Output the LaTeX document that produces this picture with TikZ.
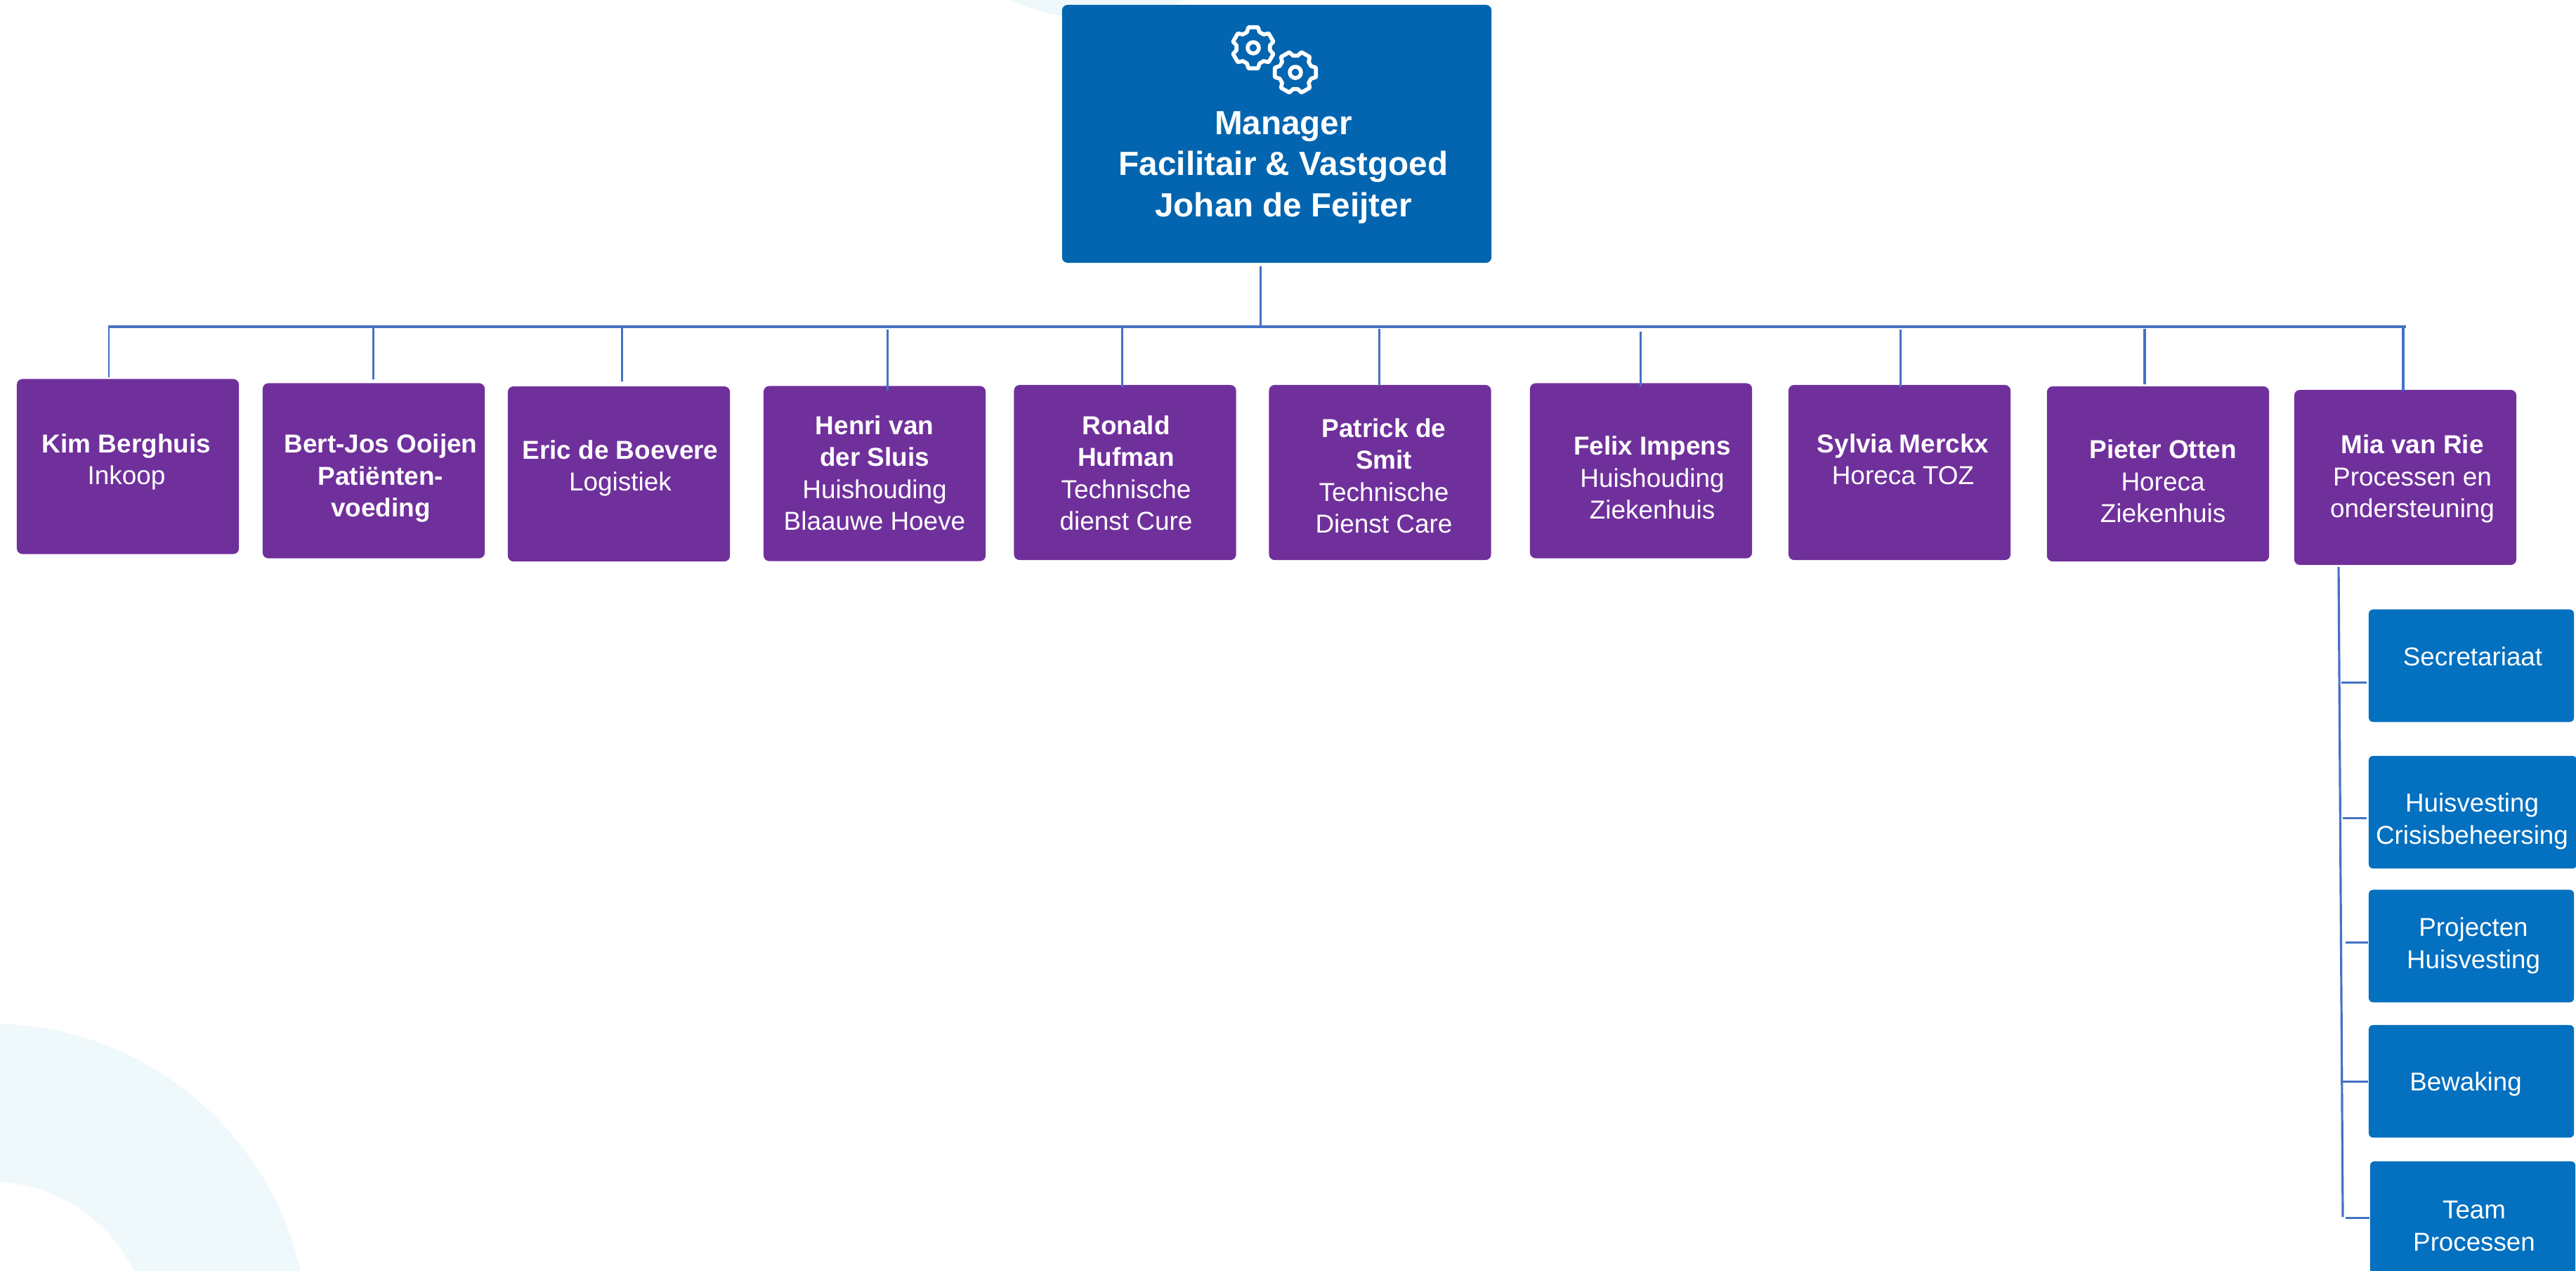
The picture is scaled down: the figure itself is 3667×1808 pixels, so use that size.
\documentclass[tikz,border=0pt]{standalone}
\usepackage{fontspec}
\setmainfont{Liberation Sans}
\definecolor{mgrblue}{HTML}{0365AF}
\definecolor{subblue}{HTML}{0370C0}
\definecolor{staffpurple}{HTML}{70309C}
\definecolor{barblue}{HTML}{4472C4}
\definecolor{palering}{HTML}{EFF8FA}
\tikzset{
  mgrbox/.style={fill=mgrblue, rounded corners=0.08cm, inner sep=0, minimum width=6.11cm, minimum height=3.67cm},
  staffbox/.style={fill=staffpurple, rounded corners=0.08cm, inner sep=0, minimum width=3.16cm, minimum height=2.49cm},
  subbox/.style={fill=subblue, rounded corners=0.06cm, inner sep=0, minimum width=2.92cm, minimum height=1.60cm},
  mgrtext/.style={text=white, align=center, anchor=base, inner sep=0, font=\fontsize{13.55}{16.6}\selectfont\bfseries},
  stafftext/.style={text=white, align=center, anchor=base, inner sep=0, font=\fontsize{10.5}{12.8}\selectfont},
  subtext/.style={text=white, align=center, anchor=base, inner sep=0, font=\fontsize{10.45}{13.0}\selectfont},
  busline/.style={draw=barblue, line width=0.9pt},
  stemline/.style={draw=barblue, line width=0.85pt},
  gearline/.style={draw=white, line width=1.6pt, line join=round}
}
\begin{document}
\begin{tikzpicture}[x=0.01cm, y=-0.01cm]
  \clip (0, 0) rectangle (3667, 1808);
  \useasboundingbox (0, 0) rectangle (3667, 1808);

  % Background shapes
  \fill[palering] (1563, -279) circle[radius=306];
  \fill[palering, even odd rule] (-13, 1909) circle[radius=452] (-13, 1909) circle[radius=227];

  % Manager
  \node[mgrbox] (manager) at (1817.5, 190.5) {};
  \node[mgrtext] (managertext) at (1827, 308) {Manager\\Facilitair \& Vastgoed\\Johan de Feijter};

  % Gears
  \foreach \cx/\cy/\rot/\gearname in {1784/68/90/geara, 1844/103/60/gearb} {
    \begin{scope}[shift={(\cx, \cy)}]
      \coordinate (\gearname) at (0, 0);
      \draw[gearline] ({\rot-22}:24) \foreach \k in {0, ..., 5} {
        -- ({\rot+60*\k-13}:30) -- ({\rot+60*\k+13}:30) -- ({\rot+60*\k+22}:24) -- ({\rot+60*\k+38}:24)
      } -- cycle;
      \draw[gearline] (0, 0) circle[radius=8];
    \end{scope}
  }

  % Staff row
  \node[staffbox] (kim) at (182, 664) {};
  \node[staffbox] (bert) at (532, 670) {};
  \node[staffbox] (eric) at (881, 674.5) {};
  \node[staffbox] (henri) at (1245, 674) {};
  \node[staffbox] (ronald) at (1601.5, 672.5) {};
  \node[staffbox] (patrick) at (1964.5, 672.5) {};
  \node[staffbox] (felix) at (2336, 670) {};
  \node[staffbox] (sylvia) at (2704, 672.5) {};
  \node[staffbox] (pieter) at (3072, 674.5) {};
  \node[staffbox] (mia) at (3424, 679.5) {};

  % Staff labels
  \node[stafftext] (kimtext) at (180, 689) {\textbf{Kim Berghuis}\\Inkoop};
  \node[stafftext] (berttext) at (542, 735) {\textbf{Bert-Jos Ooijen}\\\textbf{Patiënten-}\\\textbf{voeding}};
  \node[stafftext] (erictext) at (883, 698) {\textbf{Eric de Boevere}\\Logistiek};
  \node[stafftext] (henritext) at (1245, 754) {\textbf{Henri van}\\\textbf{der Sluis}\\Huishouding\\Blaauwe Hoeve};
  \node[stafftext] (ronaldtext) at (1603, 754) {\textbf{Ronald}\\\textbf{Hufman}\\Technische\\dienst Cure};
  \node[stafftext] (patricktext) at (1970, 758) {\textbf{Patrick de}\\\textbf{Smit}\\Technische\\Dienst Care};
  \node[stafftext] (felixtext) at (2352, 738) {\textbf{Felix Impens}\\Huishouding\\Ziekenhuis};
  \node[stafftext] (sylviatext) at (2709, 689) {\textbf{Sylvia Merckx}\\Horeca TOZ};
  \node[stafftext] (pietertext) at (3079, 743) {\textbf{Pieter Otten}\\Horeca\\Ziekenhuis};
  \node[stafftext] (miatext) at (3434, 736) {\textbf{Mia van Rie}\\Processen en\\ondersteuning};

  % Team boxes
  \node[subbox] (sec) at (3518, 947.5) {};
  \node[subbox, minimum width=2.96cm] (huis) at (3520, 1156) {};
  \node[subbox] (proj) at (3518, 1346.5) {};
  \node[subbox] (bew) at (3518, 1539) {};
  \node[subbox] (team) at (3520, 1733) {};
  \node[subtext] (sectext) at (3520, 947) {Secretariaat};
  \node[subtext] (huistext) at (3519, 1201) {Huisvesting\\Crisisbeheersing};
  \node[subtext] (projtext) at (3521, 1378) {Projecten\\Huisvesting};
  \node[subtext] (bewtext) at (3510, 1552) {Bewaking};
  \node[subtext] (teamtext) at (3522, 1780) {Team\\Processen};

  % Bus
  \coordinate (busleft) at (154, 465);
  \coordinate (busright) at (3425, 465);
  \draw[busline] (busleft) -- (busright);
  \coordinate (mgrdrop) at (1794, 465);
  \draw[stemline, shorten <=0.04cm] (mgrdrop |- manager.south) -- (mgrdrop);

  % Drops to the staff row
  \coordinate (kimdrop) at (155, 465);
  \coordinate (bertdrop) at (531, 465);
  \coordinate (ericdrop) at (885, 463);
  \coordinate (henridrop) at (1263, 469);
  \coordinate (ronalddrop) at (1597, 463);
  \coordinate (patrickdrop) at (1963, 468);
  \coordinate (felixdrop) at (2335, 472);
  \coordinate (sylviadrop) at (2705, 469);
  \coordinate (pieterdrop) at (3053, 468);
  \coordinate (miadrop) at (3421, 467);
  \draw[stemline, shorten >=0.02cm] (kimdrop) -- (kimdrop |- kim.north);
  \draw[stemline, shorten >=0.05cm] (bertdrop) -- (bertdrop |- bert.north);
  \draw[stemline, shorten >=0.06cm] (ericdrop) -- (ericdrop |- eric.north);
  \draw[stemline, shorten >=-0.07cm] (henridrop) -- (henridrop |- henri.north);
  \draw[stemline, shorten >=-0.04cm] (ronalddrop) -- (ronalddrop |- ronald.north);
  \draw[stemline, shorten >=-0.02cm] (patrickdrop) -- (patrickdrop |- patrick.north);
  \draw[stemline, shorten >=-0.05cm] (felixdrop) -- (felixdrop |- felix.north);
  \draw[stemline, shorten >=-0.04cm] (sylviadrop) -- (sylviadrop |- sylvia.north);
  \draw[busline, shorten >=0.02cm] (pieterdrop) -- (pieterdrop |- pieter.north);
  \draw[busline, shorten >=-0.02cm] (miadrop) -- (miadrop |- mia.north);

  % Trunk under Mia
  \coordinate (trunktop) at (3329, 807);
  \coordinate (trunkbot) at (3335, 1732);
  \draw[busline, shorten <=0.02cm] (trunktop |- mia.south) -- (trunkbot);
  \coordinate (secstem) at (3333, 971);
  \coordinate (huisstem) at (3335, 1164);
  \coordinate (projstem) at (3339, 1341);
  \coordinate (bewstem) at (3335, 1539);
  \coordinate (teamstem) at (3339, 1733);
  \draw[stemline, shorten >=0.02cm] (secstem) -- (secstem -| sec.west);
  \draw[stemline, shorten >=0.02cm] (huisstem) -- (huisstem -| huis.west);
  \draw[stemline] (projstem) -- (projstem -| proj.west);
  \draw[stemline] (bewstem) -- (bewstem -| bew.west);
  \draw[stemline] (teamstem) -- (teamstem -| team.west);
\end{tikzpicture}
\end{document}
